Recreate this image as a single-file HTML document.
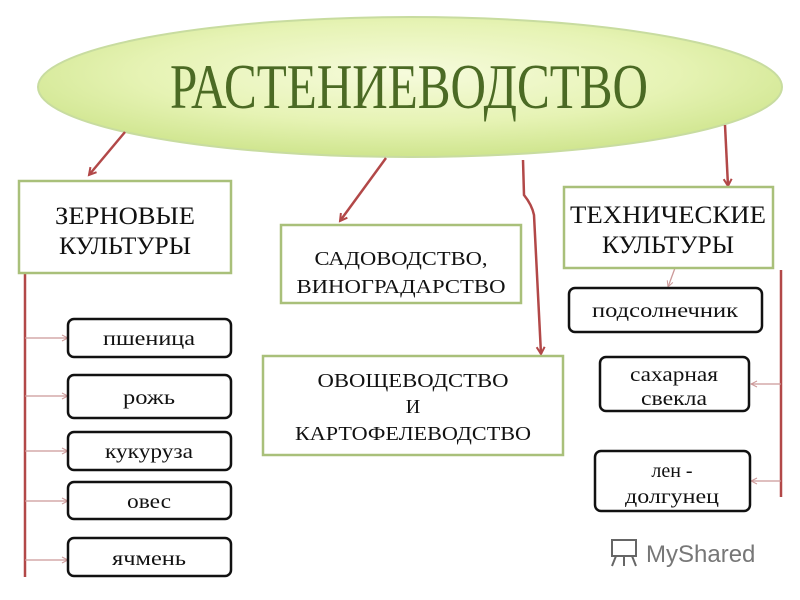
<!DOCTYPE html>
<html><head><meta charset="utf-8"><style>
html,body{margin:0;padding:0;background:#fff;}
svg{display:block}
text{font-family:"Liberation Serif",serif;}
</style></head><body>
<svg width="800" height="600" viewBox="0 0 800 600" xmlns="http://www.w3.org/2000/svg">
<defs>
<radialGradient id="g" cx="50%" cy="40%" r="60%">
<stop offset="0" stop-color="#f6fbdc"/><stop offset="0.6" stop-color="#e6f3b4"/><stop offset="1" stop-color="#cfe58e"/>
</radialGradient>
<marker id="ah" markerWidth="10" markerHeight="10" refX="8" refY="5" orient="auto" markerUnits="userSpaceOnUse">
<path d="M1,1 L8,5 L1,9" fill="none" stroke="#b24848" stroke-width="2"/>
</marker>
<marker id="sa" markerWidth="8" markerHeight="8" refX="7" refY="4" orient="auto" markerUnits="userSpaceOnUse">
<path d="M1,1 L7,4 L1,7" fill="none" stroke="#c99" stroke-width="1"/>
</marker>
</defs>
<ellipse cx="410" cy="87" rx="372" ry="70" fill="url(#g)" stroke="#c8dca0" stroke-width="2"/>
<text x="409" y="108" font-size="64" fill="#4b6a24" text-anchor="middle" textLength="478" lengthAdjust="spacingAndGlyphs">РАСТЕНИЕВОДСТВО</text>

<g stroke="#b24848" stroke-width="2.5" fill="none">
<path d="M125,132 L89,175" marker-end="url(#ah)"/>
<path d="M386,158 L340,221" marker-end="url(#ah)"/>
<path d="M523,160 L524,195 Q532,205 534,215 L541,354" marker-end="url(#ah)"/>
<path d="M725,125 L728,186" marker-end="url(#ah)"/>
<path d="M25,274 L25,577"/>
<path d="M781,270 L781,497"/>
</g>
<g stroke="#c99" stroke-width="1.3" fill="none">
<path d="M25,338 L68,338" marker-end="url(#sa)"/>
<path d="M25,396 L68,396" marker-end="url(#sa)"/>
<path d="M25,451 L68,451" marker-end="url(#sa)"/>
<path d="M25,501 L68,501" marker-end="url(#sa)"/>
<path d="M25,560 L68,560" marker-end="url(#sa)"/>
<path d="M781,384 L751,384" marker-end="url(#sa)"/>
<path d="M781,481 L751,481" marker-end="url(#sa)"/>
<path d="M675,268 L668,287" marker-end="url(#sa)"/>
</g>

<g fill="#fff" stroke="#a9c07a" stroke-width="2.5">
<rect x="19" y="181" width="212" height="92"/>
<rect x="281" y="225" width="240" height="78"/>
<rect x="564" y="187" width="209" height="81"/>
<rect x="263" y="356" width="300" height="99"/>
</g>
<g fill="#fff" stroke="#111" stroke-width="2.5">
<rect x="569" y="288" width="193" height="44" rx="6"/>
<rect x="600" y="357" width="149" height="54" rx="6"/>
<rect x="595" y="451" width="155" height="60" rx="6"/>
<rect x="68" y="319" width="163" height="38" rx="6"/>
<rect x="68" y="375" width="163" height="43" rx="6"/>
<rect x="68" y="432" width="163" height="38" rx="6"/>
<rect x="68" y="482" width="163" height="37" rx="6"/>
<rect x="68" y="538" width="163" height="38" rx="6"/>
</g>

<g fill="#111" text-anchor="middle">
<text x="125" y="224" font-size="25" textLength="140" lengthAdjust="spacingAndGlyphs">ЗЕРНОВЫЕ</text>
<text x="125" y="254" font-size="25" textLength="132" lengthAdjust="spacingAndGlyphs">КУЛЬТУРЫ</text>
<text x="668" y="223" font-size="25" textLength="196" lengthAdjust="spacingAndGlyphs">ТЕХНИЧЕСКИЕ</text>
<text x="668" y="253" font-size="25" textLength="132" lengthAdjust="spacingAndGlyphs">КУЛЬТУРЫ</text>
<text x="401" y="265" font-size="20" textLength="173" lengthAdjust="spacingAndGlyphs">САДОВОДСТВО,</text>
<text x="401" y="293" font-size="20" textLength="209" lengthAdjust="spacingAndGlyphs">ВИНОГРАДАРСТВО</text>
<text x="413" y="387" font-size="20" textLength="191" lengthAdjust="spacingAndGlyphs">ОВОЩЕВОДСТВО</text>
<text x="413" y="413" font-size="20">И</text>
<text x="413" y="440" font-size="20" textLength="236" lengthAdjust="spacingAndGlyphs">КАРТОФЕЛЕВОДСТВО</text>
<text x="665" y="317" font-size="20" textLength="146" lengthAdjust="spacingAndGlyphs">подсолнечник</text>
<text x="674" y="381" font-size="20" textLength="88" lengthAdjust="spacingAndGlyphs">сахарная</text>
<text x="674" y="405" font-size="20" textLength="66" lengthAdjust="spacingAndGlyphs">свекла</text>
<text x="672" y="477" font-size="20">лен -</text>
<text x="672" y="503" font-size="20" textLength="94" lengthAdjust="spacingAndGlyphs">долгунец</text>
<text x="149" y="345" font-size="20" textLength="92" lengthAdjust="spacingAndGlyphs">пшеница</text>
<text x="149" y="404" font-size="20" textLength="52" lengthAdjust="spacingAndGlyphs">рожь</text>
<text x="149" y="458" font-size="20" textLength="88" lengthAdjust="spacingAndGlyphs">кукуруза</text>
<text x="149" y="508" font-size="20" textLength="44" lengthAdjust="spacingAndGlyphs">овес</text>
<text x="149" y="565" font-size="20" textLength="74" lengthAdjust="spacingAndGlyphs">ячмень</text>
</g>

<g stroke="#666" stroke-width="2" fill="none">
<rect x="612" y="540" width="24" height="16"/>
<path d="M616,556 L612,566 M632,556 L636,566 M624,556 L624,566"/>
</g>
<text x="646" y="562" font-size="24" fill="#777" style="font-family:'Liberation Sans',sans-serif">MyShared</text>
</svg>
</body></html>
